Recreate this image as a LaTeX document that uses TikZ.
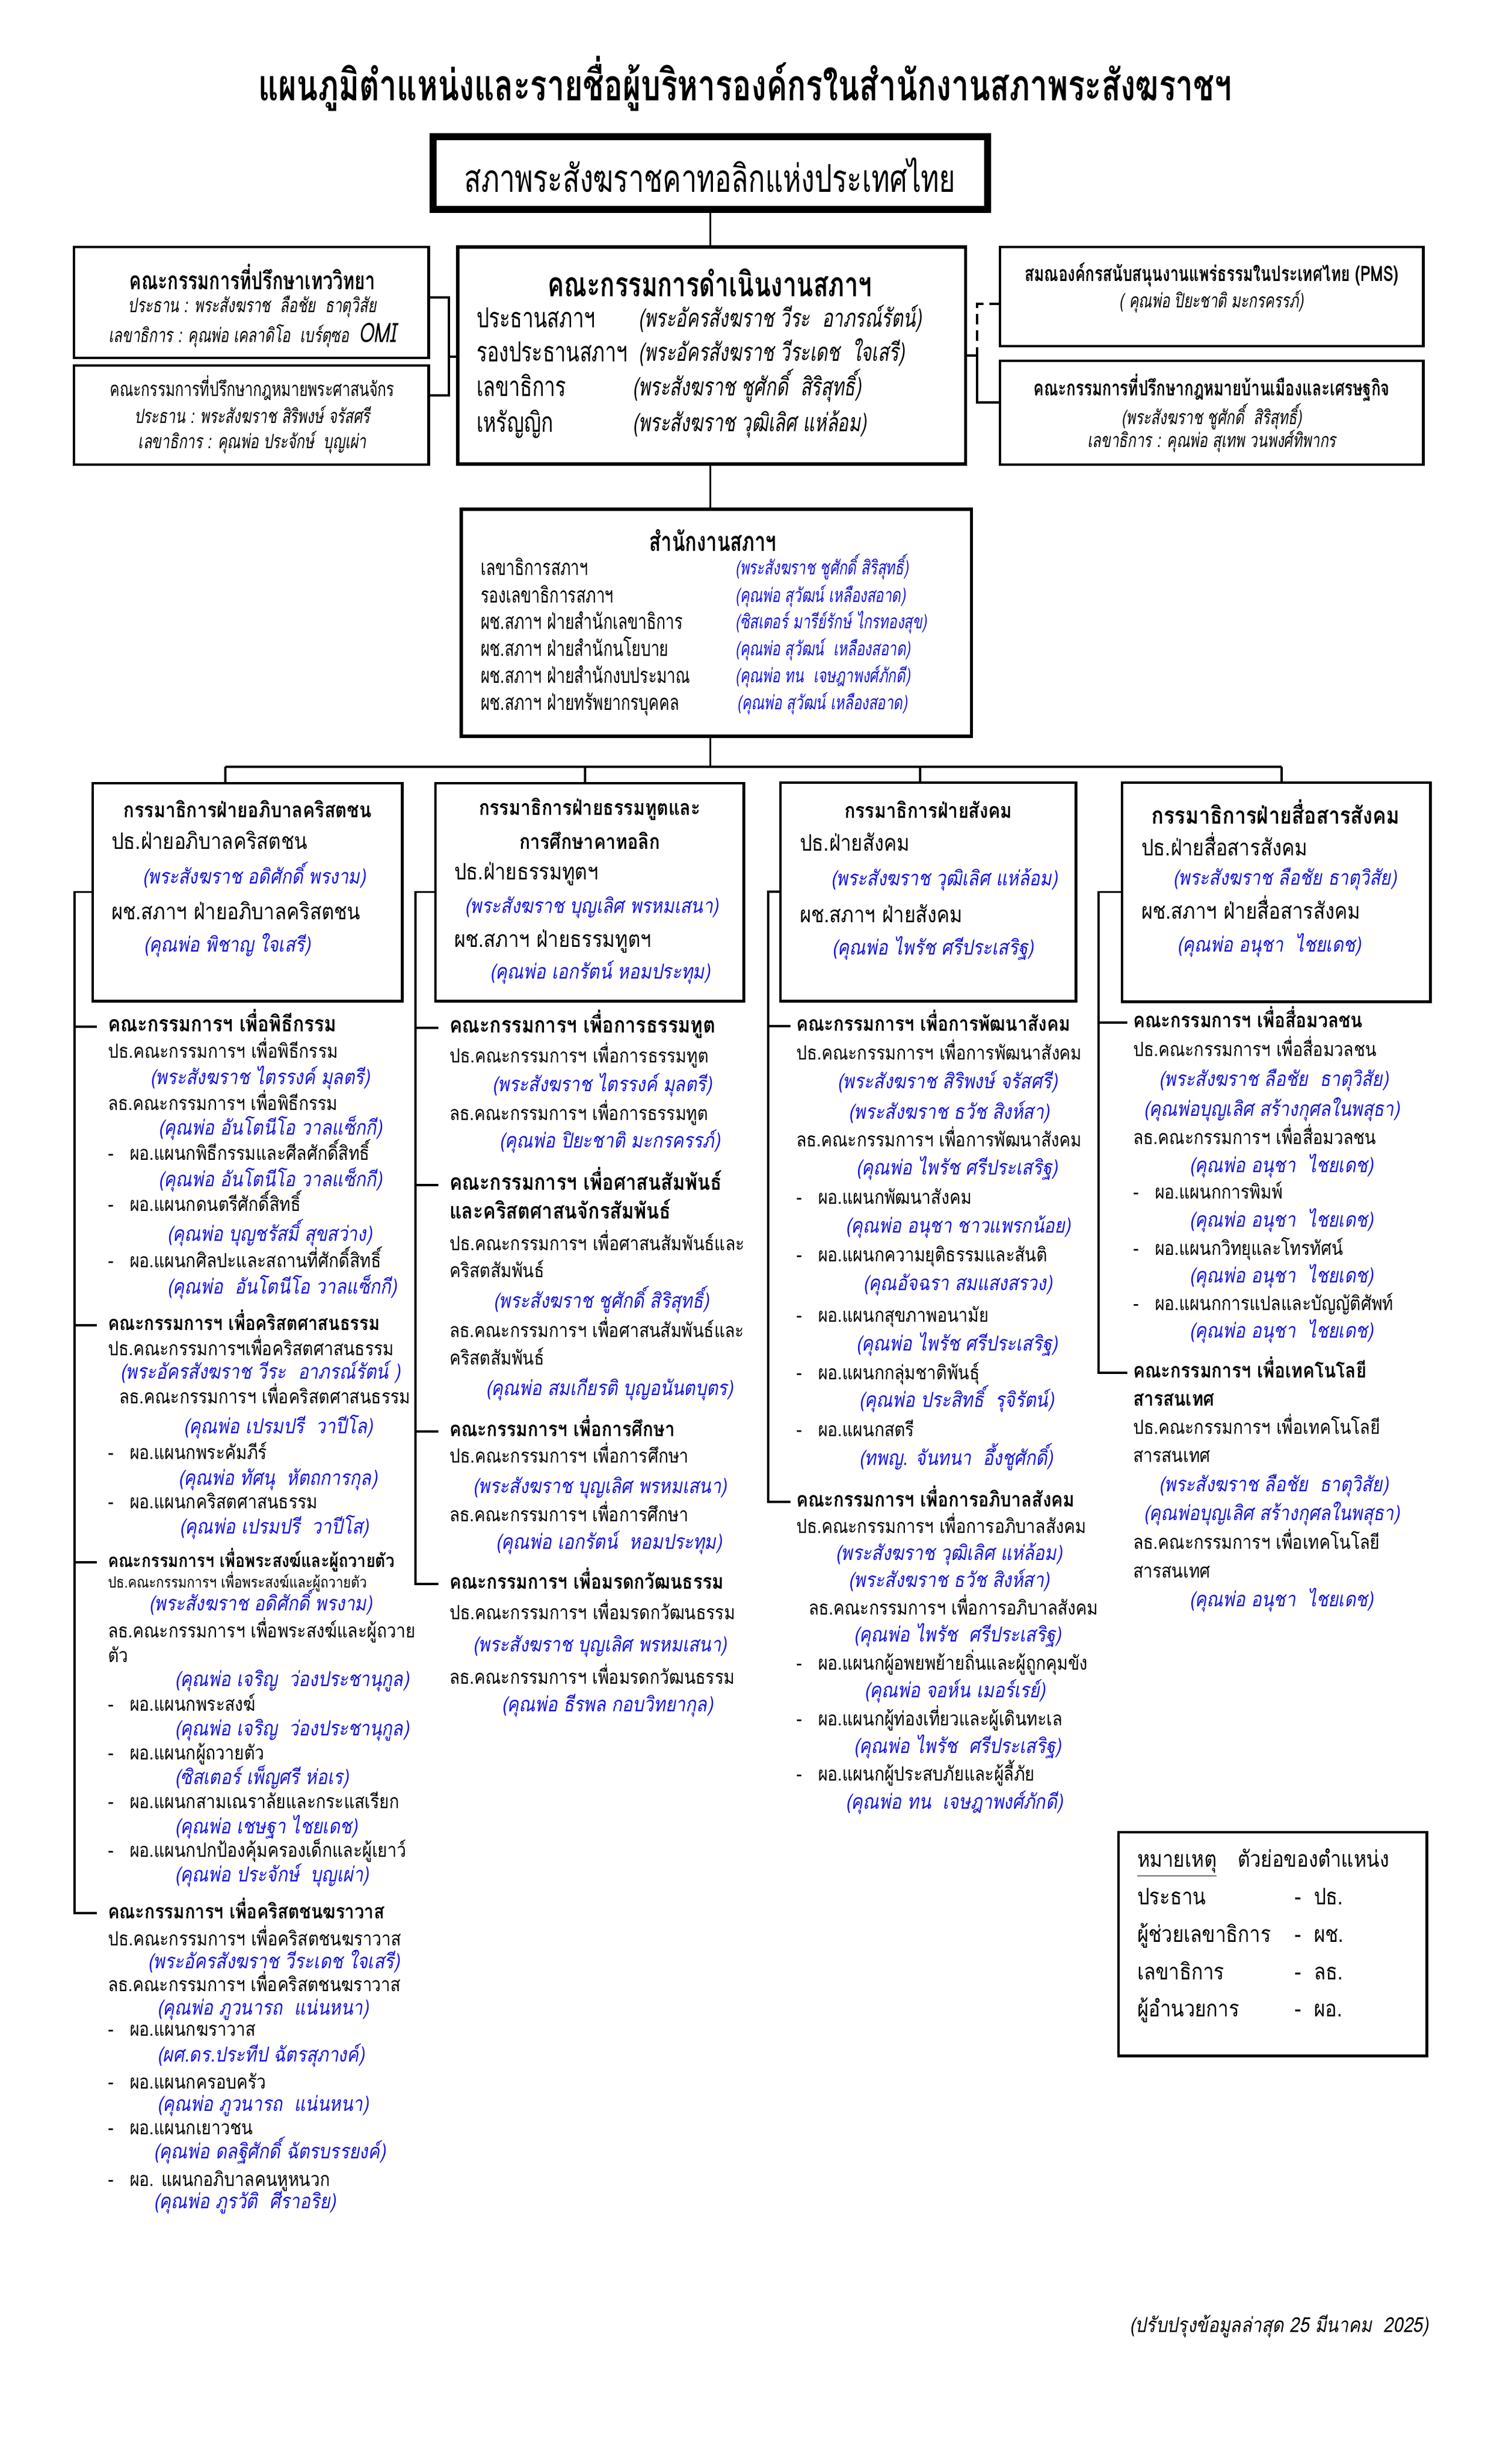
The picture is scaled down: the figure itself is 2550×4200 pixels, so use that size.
\documentclass[tikz,border=0pt]{standalone}
\usepackage{fontspec}
\usetikzlibrary{calc}
\newfontfamily\thA[Script=Thai,FakeStretch=0.85]{Loma}
\newfontfamily\thC[Script=Thai,FakeStretch=0.72]{Loma}
\newcommand\myfs[1]{\fontsize{#1}{#1}\selectfont}
\newcommand\dsh{\makebox[0.37cm][l]{-}}
\definecolor{thblue}{RGB}{20,20,225}
\tikzset{
  every node/.style={inner sep=0pt, outer sep=0pt},
  ln/.style={line width=1pt, black},
  bx/.style={draw, line width=1.3pt, anchor=north west},
  ttl/.style={anchor=center, font=\thC\bfseries\myfs{21}},
  topt/.style={anchor=center, font=\thC\myfs{18.6}},
  ctt/.style={anchor=center, font=\thC\bfseries\myfs{16.5}},
  clab/.style={anchor=west, font=\thC\myfs{13.4}, text height=8.8pt, text depth=2.3pt},
  cnam/.style={anchor=west, font=\thC\itshape\myfs{12.2}, text height=8.1pt, text depth=2.1pt},
  sbt/.style={anchor=center, font=\thC\bfseries\myfs{12}},
  sbtr/.style={anchor=center, font=\thC\myfs{9.8}},
  sbi/.style={anchor=center, font=\thC\itshape\myfs{9.6}},
  sbb/.style={anchor=center, font=\thC\bfseries\myfs{10.3}},
  stt/.style={anchor=center, font=\thC\bfseries\myfs{13}},
  slab/.style={anchor=west, font=\thC\myfs{10.5}, text height=7pt, text depth=1.8pt},
  snam/.style={anchor=west, font=\thC\itshape\myfs{9.5}, text=thblue, text height=6.3pt, text depth=1.6pt},
  ct/.style={anchor=west, font=\thA\myfs{9.5}, text height=6.3pt, text depth=1.5pt},
  cs/.style={anchor=west, font=\thA\myfs{7.5}, text height=5pt, text depth=1.2pt},
  cn/.style={anchor=west, font=\thA\itshape\myfs{10}, text=thblue, text height=6.6pt, text depth=1.6pt},
  ch/.style={anchor=west, font=\thA\bfseries\myfs{#1}, text height=6.8pt, text depth=1.7pt},
  ch/.default=10,
  bt/.style={anchor=center, font=\thA\bfseries\myfs{#1}},
  bt/.default=10.2,
  bl/.style={anchor=west, font=\thA\myfs{11}, text height=7.3pt, text depth=1.8pt},
  lg/.style={anchor=west, font=\thA\myfs{11}, text height=7.3pt, text depth=1.8pt},
  ft/.style={anchor=west, font=\thA\itshape\myfs{10}},
}
\begin{document}
\begin{tikzpicture}[x=0.01cm, y=-0.01cm]
\useasboundingbox (0,0) rectangle (2550,4200);
\fill[white] (0,0) rectangle (2550,4200);

% ---------- title ----------
\node[ttl] (title) at (1270,143) {แผนภูมิตำแหน่งและรายชื่อผู้บริหารองค์กรในสำนักงานสภาพระสังฆราชฯ};

% ---------- top box ----------
\node[bx, line width=3.4pt, minimum width=9.44cm, minimum height=1.24cm] (T) at (738,233) {};
\node[topt] (Tt) at (1210,298) {สภาพระสังฆราชคาทอลิกแห่งประเทศไทย};

% ---------- executive committee ----------
\node[bx, line width=1.6pt, minimum width=8.65cm, minimum height=3.70cm] (C) at (780,421) {};
\node[ctt] (Ct) at (1210,482) {คณะกรรมการดำเนินงานสภาฯ};
\node[clab] (Cl1) at (812,547) {ประธานสภาฯ};
\node[cnam] (Cn1) at (1088,547) {(พระอัครสังฆราช วีระ \ อาภรณ์รัตน์)};
\node[clab] (Cl2) at (812,605) {รองประธานสภาฯ};
\node[cnam] (Cn2) at (1088,605) {(พระอัครสังฆราช วีระเดช \ ใจเสรี)};
\node[clab] (Cl3) at (812,664) {เลขาธิการ};
\node[cnam] (Cn3) at (1078,664) {(พระสังฆราช ชูศักดิ์ \ สิริสุทธิ์)};
\node[clab] (Cl4) at (812,725) {เหรัญญิก};
\node[cnam] (Cn4) at (1078,725) {(พระสังฆราช วุฒิเลิศ แห่ล้อม)};

% ---------- left advisory boxes ----------
\node[bx, minimum width=6.04cm, minimum height=1.89cm] (L1) at (126,421) {};
\node[sbt] (L1a) at (430,472) {คณะกรรมการที่ปรึกษาเทววิทยา};
\node[sbi] (L1b) at (430,523) {ประธาน : พระสังฆราช \ ลือชัย \ ธาตุวิสัย};
\node[sbi] (L1c) at (430,571) {เลขาธิการ : คุณพ่อ เคลาดิโอ \ เบร์ตุซอ \ {\myfs{13}OMI}};
\node[bx, minimum width=6.04cm, minimum height=1.69cm] (L2) at (126,623) {};
\node[sbtr] (L2a) at (430,661) {คณะกรรมการที่ปรึกษากฎหมายพระศาสนจักร};
\node[sbi] (L2b) at (430,707) {ประธาน : พระสังฆราช สิริพงษ์ จรัสศรี};
\node[sbi] (L2c) at (430,754) {เลขาธิการ : คุณพ่อ ประจักษ์ \ บุญเผ่า};

% ---------- right boxes ----------
\node[bx, minimum width=7.21cm, minimum height=1.69cm] (R1) at (1704,421) {};
\node[sbb] (R1a) at (2065,468) {สมณองค์กรสนับสนุนงานแพร่ธรรมในประเทศไทย (PMS)};
\node[sbi] (R1b) at (2065,514) {( คุณพ่อ ปิยะชาติ มะกรครรภ์)};
\node[bx, minimum width=7.21cm, minimum height=1.77cm] (R2) at (1704,615) {};
\node[sbb] (R2a) at (2065,661) {คณะกรรมการที่ปรึกษากฎหมายบ้านเมืองและเศรษฐกิจ};
\node[sbi] (R2b) at (2065,710) {(พระสังฆราช ชูศักดิ์ \ สิริสุทธิ์)};
\node[sbi] (R2c) at (2065,752) {เลขาธิการ : คุณพ่อ สุเทพ วนพงศ์ทิพากร};

% ---------- secretariat ----------
\node[bx, line width=1.6pt, minimum width=8.69cm, minimum height=3.87cm] (S) at (786,868) {};
\node[stt] (St) at (1215,921) {สำนักงานสภาฯ};
\node[slab] (Sl1) at (819,971) {เลขาธิการสภาฯ};
\node[snam] (Sn1) at (1253,971) {(พระสังฆราช ชูศักดิ์ สิริสุทธิ์)};
\node[slab] (Sl2) at (819,1018) {รองเลขาธิการสภาฯ};
\node[snam] (Sn2) at (1253,1018) {(คุณพ่อ สุวัฒน์ เหลืองสอาด)};
\node[slab] (Sl3) at (819,1063) {ผช.สภาฯ ฝ่ายสำนักเลขาธิการ};
\node[snam] (Sn3) at (1253,1063) {(ซิสเตอร์ มารีย์รักษ์ ไกรทองสุข)};
\node[slab] (Sl4) at (819,1109) {ผช.สภาฯ ฝ่ายสำนักนโยบาย};
\node[snam] (Sn4) at (1253,1109) {(คุณพ่อ สุวัฒน์ \ เหลืองสอาด)};
\node[slab] (Sl5) at (819,1155) {ผช.สภาฯ ฝ่ายสำนักงบประมาณ};
\node[snam] (Sn5) at (1253,1155) {(คุณพ่อ ทน \ เจษฎาพงศ์ภักดี)};
\node[slab] (Sl6) at (819,1201) {ผช.สภาฯ ฝ่ายทรัพยากรบุคคล};
\node[snam] (Sn6) at (1256,1201) {(คุณพ่อ สุวัฒน์ เหลืองสอาด)};

% ---------- top connectors ----------
\draw[ln] (T.south) -- (T.south |- C.north);
\coordinate (lb1) at (765,507);
\coordinate (lb2) at (765,674);
\coordinate (lbm) at (765,608);
\draw[line width=1.4pt] (L1.east |- lb1) -- (lb1) -- (lb2) -- (L2.east |- lb2);
\draw[line width=1.4pt] (lbm) -- (C.west |- lbm);
\coordinate (rb1) at (1665,518);
\coordinate (rbm) at (1665,606);
\coordinate (rb2) at (1665,686);
\draw[ln, dash pattern=on 5pt off 3pt] (R1.west |- rb1) -- (rb1) -- (rbm);
\draw[ln] (C.east |- rbm) -- (rbm) -- (rb2) -- (R2.west |- rb2);
\draw[ln] (C.south -| T.south) -- (T.south |- S.north);
\coordinate (d1) at (384,1307);
\coordinate (d2) at (997,1307);
\coordinate (d3) at (1568,1307);
\coordinate (d4) at (2184,1307);
\draw[ln] (T.south |- S.south) -- (T.south |- d1);
\draw[ln] (d1) -- (d4);

% ---------- column boxes ----------
\node[bx, minimum width=5.27cm, minimum height=3.71cm] (B1) at (158,1335) {};
\node[bx, minimum width=5.25cm, minimum height=3.71cm] (B2) at (742,1335) {};
\node[bx, minimum width=5.03cm, minimum height=3.72cm] (B3) at (1330,1334) {};
\node[bx, minimum width=5.25cm, minimum height=3.73cm] (B4) at (1912,1334) {};
\draw[ln] (d1) -- (d1 |- B1.north);
\draw[ln] (d2) -- (d2 |- B2.north);
\draw[ln] (d3) -- (d3 |- B3.north);
\draw[ln] (d4) -- (d4 |- B4.north);

% ---------- column 1 ----------
\node[bt] (b1t) at (422,1379) {กรรมาธิการฝ่ายอภิบาลคริสตชน};
\node[bl] (b1a) at (190,1438) {ปธ.ฝ่ายอภิบาลคริสตชน};
\node[cn] (b1b) at (243,1498) {(พระสังฆราช อดิศักดิ์ พรงาม)};
\node[bl] (b1c) at (190,1558) {ผช.สภาฯ ฝ่ายอภิบาลคริสตชน};
\node[cn] (b1d) at (245,1614) {(คุณพ่อ พิชาญ ใจเสรี)};

\node[ch=10.6] (h11) at (184,1750) {คณะกรรมการฯ เพื่อพิธีกรรม};
\node[ct] (k101) at (184,1795) {ปธ.คณะกรรมการฯ เพื่อพิธีกรรม};
\node[cn] (k102) at (256,1840) {(พระสังฆราช ไตรรงค์ มุลตรี)};
\node[ct] (k103) at (184,1884) {ลธ.คณะกรรมการฯ เพื่อพิธีกรรม};
\node[cn] (k104) at (270,1926) {(คุณพ่อ อันโตนีโอ วาลแซ็กกี)};
\node[ct] (k105) at (184,1969) {\dsh ผอ.แผนกพิธีกรรมและศีลศักดิ์สิทธิ์};
\node[cn] (k106) at (270,2014) {(คุณพ่อ อันโตนีโอ วาลแซ็กกี)};
\node[ct] (k107) at (184,2056) {\dsh ผอ.แผนกดนตรีศักดิ์สิทธิ์};
\node[cn] (k108) at (285,2107) {(คุณพ่อ บุญชรัสมิ์ สุขสว่าง)};
\node[ct] (k109) at (184,2152) {\dsh ผอ.แผนกศิลปะและสถานที่ศักดิ์สิทธิ์};
\node[cn] (k110) at (285,2197) {(คุณพ่อ \ อันโตนีโอ วาลแซ็กกี)};

\node[ch=9.7] (h12) at (184,2259) {คณะกรรมการฯ เพื่อคริสตศาสนธรรม};
\node[ct] (k111) at (184,2302) {ปธ.คณะกรรมการฯเพื่อคริสตศาสนธรรม};
\node[cn] (k112) at (205,2342) {(พระอัครสังฆราช วีระ \ อาภรณ์รัตน์ )};
\node[ct] (k113) at (203,2384) {ลธ.คณะกรรมการฯ เพื่อคริสตศาสนธรรม};
\node[cn] (k114) at (313,2435) {(คุณพ่อ เปรมปรี \ วาปีโล)};
\node[ct] (k115) at (184,2479) {\dsh ผอ.แผนกพระคัมภีร์};
\node[cn] (k116) at (304,2523) {(คุณพ่อ ทัศนุ \ หัตถการกุล)};
\node[ct] (k117) at (184,2563) {\dsh ผอ.แผนกคริสตศาสนธรรม};
\node[cn] (k118) at (306,2606) {(คุณพ่อ เปรมปรี \ วาปีโส)};

\node[ch=9] (h13) at (184,2663) {คณะกรรมการฯ เพื่อพระสงฆ์และผู้ถวายตัว};
\node[cs] (k119) at (184,2700) {ปธ.คณะกรรมการฯ เพื่อพระสงฆ์และผู้ถวายตัว};
\node[cn] (k120) at (254,2737) {(พระสังฆราช อดิศักดิ์ พรงาม)};
\node[ct] (k121) at (184,2783) {ลธ.คณะกรรมการฯ เพื่อพระสงฆ์และผู้ถวาย};
\node[ct] (k122) at (184,2825) {ตัว};
\node[cn] (k123) at (298,2866) {(คุณพ่อ เจริญ \ ว่องประชานุกูล)};
\node[ct] (k124) at (184,2908) {\dsh ผอ.แผนกพระสงฆ์};
\node[cn] (k125) at (298,2950) {(คุณพ่อ เจริญ \ ว่องประชานุกูล)};
\node[ct] (k126) at (184,2991) {\dsh ผอ.แผนกผู้ถวายตัว};
\node[cn] (k127) at (298,3033) {(ซิสเตอร์ เพ็ญศรี ห่อเร)};
\node[ct] (k128) at (184,3074) {\dsh ผอ.แผนกสามเณราลัยและกระแสเรียก};
\node[cn] (k129) at (298,3117) {(คุณพ่อ เชษฐา ไชยเดช)};
\node[ct] (k130) at (184,3157) {\dsh ผอ.แผนกปกป้องคุ้มครองเด็กและผู้เยาว์};
\node[cn] (k131) at (298,3199) {(คุณพ่อ ประจักษ์ \ บุญเผ่า)};

\node[ch=9.8] (h14) at (184,3261) {คณะกรรมการฯ เพื่อคริสตชนฆราวาส};
\node[ct] (k132) at (184,3308) {ปธ.คณะกรรมการฯ เพื่อคริสตชนฆราวาส};
\node[cn] (k133) at (252,3347) {(พระอัครสังฆราช วีระเดช ใจเสรี)};
\node[ct] (k134) at (184,3386) {ลธ.คณะกรรมการฯ เพื่อคริสตชนฆราวาส};
\node[cn] (k135) at (268,3426) {(คุณพ่อ ภูวนารถ \ แน่นหนา)};
\node[ct] (k136) at (184,3462) {\dsh ผอ.แผนกฆราวาส};
\node[cn] (k137) at (268,3506) {(ผศ.ดร.ประทีป ฉัตรสุภางค์)};
\node[ct] (k138) at (184,3552) {\dsh ผอ.แผนกครอบครัว};
\node[cn] (k139) at (268,3590) {(คุณพ่อ ภูวนารถ \ แน่นหนา)};
\node[ct] (k140) at (184,3630) {\dsh ผอ.แผนกเยาวชน};
\node[cn] (k141) at (262,3671) {(คุณพ่อ ดลฐิศักดิ์ ฉัตรบรรยงค์)};
\node[ct] (k142) at (184,3718) {\dsh ผอ. แผนกอภิบาลคนหูหนวก};
\node[cn] (k143) at (262,3756) {(คุณพ่อ ภูรวัติ \ ศีราอริย)};

\coordinate (v1) at (127,1523);
\draw[ln] (B1.west) -- (v1 |- B1.west) -- (v1 |- h14.west) -- ($(h14.west)+(-19,0)$);
\draw[ln] (v1 |- h11.west) -- ($(h11.west)+(-19,0)$);
\draw[ln] (v1 |- h12.west) -- ($(h12.west)+(-19,0)$);
\draw[ln] (v1 |- h13.west) -- ($(h13.west)+(-19,0)$);

% ---------- column 2 ----------
\node[bt] (b2t) at (1005,1379) {กรรมาธิการฝ่ายธรรมทูตและ};
\node[bt] (b2u) at (1005,1433) {การศึกษาคาทอลิก};
\node[bl] (b2a) at (774,1490) {ปธ.ฝ่ายธรรมทูตฯ};
\node[cn] (b2b) at (792,1548) {(พระสังฆราช บุญเลิศ พรหมเสนา)};
\node[bl] (b2c) at (774,1605) {ผช.สภาฯ ฝ่ายธรรมทูตฯ};
\node[cn] (b2d) at (835,1660) {(คุณพ่อ เอกรัตน์ หอมประทุม)};

\node[ch=10.8] (h21) at (766,1752) {คณะกรรมการฯ เพื่อการธรรมทูต};
\node[ct] (k201) at (766,1803) {ปธ.คณะกรรมการฯ เพื่อการธรรมทูต};
\node[cn] (k202) at (839,1852) {(พระสังฆราช ไตรรงค์ มุลตรี)};
\node[ct] (k203) at (766,1901) {ลธ.คณะกรรมการฯ เพื่อการธรรมทูต};
\node[cn] (k204) at (851,1948) {(คุณพ่อ ปิยะชาติ มะกรครรภ์)};

\node[ch=10.8] (h22) at (766,2020) {คณะกรรมการฯ เพื่อศาสนสัมพันธ์};
\node[ch=10.8] (h22b) at (766,2069) {และคริสตศาสนจักรสัมพันธ์};
\node[ct] (k205) at (766,2123) {ปธ.คณะกรรมการฯ เพื่อศาสนสัมพันธ์และ};
\node[ct] (k206) at (766,2169) {คริสตสัมพันธ์};
\node[cn] (k207) at (841,2221) {(พระสังฆราช ชูศักดิ์ สิริสุทธิ์)};
\node[ct] (k208) at (766,2271) {ลธ.คณะกรรมการฯ เพื่อศาสนสัมพันธ์และ};
\node[ct] (k209) at (766,2318) {คริสตสัมพันธ์};
\node[cn] (k210) at (828,2370) {(คุณพ่อ สมเกียรติ บุญอนันตบุตร)};

\node[ch] (h23) at (766,2440) {คณะกรรมการฯ เพื่อการศึกษา};
\node[ct] (k211) at (766,2485) {ปธ.คณะกรรมการฯ เพื่อการศึกษา};
\node[cn] (k212) at (806,2537) {(พระสังฆราช บุญเลิศ พรหมเสนา)};
\node[ct] (k213) at (766,2585) {ลธ.คณะกรรมการฯ เพื่อการศึกษา};
\node[cn] (k214) at (845,2632) {(คุณพ่อ เอกรัตน์ \ หอมประทุม)};

\node[ch] (h24) at (766,2700) {คณะกรรมการฯ เพื่อมรดกวัฒนธรรม};
\node[ct] (k215) at (766,2752) {ปธ.คณะกรรมการฯ เพื่อมรดกวัฒนธรรม};
\node[cn] (k216) at (806,2807) {(พระสังฆราช บุญเลิศ พรหมเสนา)};
\node[ct] (k217) at (766,2862) {ลธ.คณะกรรมการฯ เพื่อมรดกวัฒนธรรม};
\node[cn] (k218) at (855,2909) {(คุณพ่อ ธีรพล กอบวิทยากุล)};

\coordinate (v2) at (708,1520);
\draw[ln] (B2.west) -- (v2 |- B2.west) -- (v2 |- h24.west) -- ($(h24.west)+(-19,0)$);
\draw[ln] (v2 |- h21.west) -- ($(h21.west)+(-19,0)$);
\draw[ln] (v2 |- h22.west) -- ($(h22.west)+(-19,0)$);
\draw[ln] (v2 |- h23.west) -- ($(h23.west)+(-19,0)$);

% ---------- column 3 ----------
\node[bt] (b3t) at (1582,1380) {กรรมาธิการฝ่ายสังคม};
\node[bl] (b3a) at (1363,1441) {ปธ.ฝ่ายสังคม};
\node[cn] (b3b) at (1416,1501) {(พระสังฆราช วุฒิเลิศ แห่ล้อม)};
\node[bl] (b3c) at (1363,1563) {ผช.สภาฯ ฝ่ายสังคม};
\node[cn] (b3d) at (1418,1619) {(คุณพ่อ ไพรัช ศรีประเสริฐ)};

\node[ch] (h31) at (1357,1749) {คณะกรรมการฯ เพื่อการพัฒนาสังคม};
\node[ct] (k301) at (1357,1798) {ปธ.คณะกรรมการฯ เพื่อการพัฒนาสังคม};
\node[cn] (k302) at (1427,1847) {(พระสังฆราช สิริพงษ์ จรัสศรี)};
\node[cn] (k303) at (1446,1899) {(พระสังฆราช ธวัช สิงห์สา)};
\node[ct] (k304) at (1357,1946) {ลธ.คณะกรรมการฯ เพื่อการพัฒนาสังคม};
\node[cn] (k305) at (1459,1994) {(คุณพ่อ ไพรัช ศรีประเสริฐ)};
\node[ct] (k306) at (1357,2044) {\dsh ผอ.แผนกพัฒนาสังคม};
\node[cn] (k307) at (1441,2093) {(คุณพ่อ อนุชา ชาวแพรกน้อย)};
\node[ct] (k308) at (1357,2142) {\dsh ผอ.แผนกความยุติธรรมและสันติ};
\node[cn] (k309) at (1471,2191) {(คุณอัจฉรา สมแสงสรวง)};
\node[ct] (k310) at (1357,2245) {\dsh ผอ.แผนกสุขภาพอนามัย};
\node[cn] (k311) at (1459,2294) {(คุณพ่อ ไพรัช ศรีประเสริฐ)};
\node[ct] (k312) at (1357,2343) {\dsh ผอ.แผนกกลุ่มชาติพันธุ์};
\node[cn] (k313) at (1464,2390) {(คุณพ่อ ประสิทธิ์ \ รุจิรัตน์)};
\node[ct] (k314) at (1357,2440) {\dsh ผอ.แผนกสตรี};
\node[cn] (k315) at (1464,2489) {(ทพญ. จันทนา \ อึ้งชูศักดิ์)};

\node[ch] (h32) at (1357,2560) {คณะกรรมการฯ เพื่อการอภิบาลสังคม};
\node[ct] (k316) at (1357,2605) {ปธ.คณะกรรมการฯ เพื่อการอภิบาลสังคม};
\node[cn] (k317) at (1424,2651) {(พระสังฆราช วุฒิเลิศ แห่ล้อม)};
\node[cn] (k318) at (1446,2697) {(พระสังฆราช ธวัช สิงห์สา)};
\node[ct] (k319) at (1378,2744) {ลธ.คณะกรรมการฯ เพื่อการอภิบาลสังคม};
\node[cn] (k320) at (1455,2790) {(คุณพ่อ ไพรัช \ ศรีประเสริฐ)};
\node[ct] (k321) at (1357,2838) {\dsh ผอ.แผนกผู้อพยพย้ายถิ่นและผู้ถูกคุมขัง};
\node[cn] (k322) at (1473,2885) {(คุณพ่อ จอห์น เมอร์เรย์)};
\node[ct] (k323) at (1357,2933) {\dsh ผอ.แผนกผู้ท่องเที่ยวและผู้เดินทะเล};
\node[cn] (k324) at (1455,2980) {(คุณพ่อ ไพรัช \ ศรีประเสริฐ)};
\node[ct] (k325) at (1357,3027) {\dsh ผอ.แผนกผู้ประสบภัยและผู้ลี้ภัย};
\node[cn] (k326) at (1441,3075) {(คุณพ่อ ทน \ เจษฎาพงศ์ภักดี)};

\coordinate (v3) at (1309,1520);
\draw[ln] (B3.west) -- (v3 |- B3.west) -- (v3 |- h32.west) -- ($(h32.west)+(-10,0)$);
\draw[ln] (v3 |- h31.west) -- ($(h31.west)+(-10,0)$);

% ---------- column 4 ----------
\node[bt=11.5] (b4t) at (2174,1384) {กรรมาธิการฝ่ายสื่อสารสังคม};
\node[bl] (b4a) at (1945,1449) {ปธ.ฝ่ายสื่อสารสังคม};
\node[cn] (b4b) at (1999,1500) {(พระสังฆราช ลือชัย ธาตุวิสัย)};
\node[bl] (b4c) at (1945,1557) {ผช.สภาฯ ฝ่ายสื่อสารสังคม};
\node[cn] (b4d) at (2006,1614) {(คุณพ่อ อนุชา \ ไชยเดช)};

\node[ch] (h41) at (1931,1743) {คณะกรรมการฯ เพื่อสื่อมวลชน};
\node[ct] (k401) at (1931,1792) {ปธ.คณะกรรมการฯ เพื่อสื่อมวลชน};
\node[cn] (k402) at (1975,1843) {(พระสังฆราช ลือชัย \ ธาตุวิสัย)};
\node[cn] (k403) at (1949,1894) {(คุณพ่อบุญเลิศ สร้างกุศลในพสุธา)};
\node[ct] (k404) at (1931,1942) {ลธ.คณะกรรมการฯ เพื่อสื่อมวลชน};
\node[cn] (k405) at (2027,1990) {(คุณพ่อ อนุชา \ ไชยเดช)};
\node[ct] (k406) at (1931,2035) {\dsh ผอ.แผนกการพิมพ์};
\node[cn] (k407) at (2027,2083) {(คุณพ่อ อนุชา \ ไชยเดช)};
\node[ct] (k408) at (1931,2131) {\dsh ผอ.แผนกวิทยุและโทรทัศน์};
\node[cn] (k409) at (2027,2178) {(คุณพ่อ อนุชา \ ไชยเดช)};
\node[ct] (k410) at (1931,2225) {\dsh ผอ.แผนกการแปลและบัญญัติศัพท์};
\node[cn] (k411) at (2027,2272) {(คุณพ่อ อนุชา \ ไชยเดช)};

\node[ch] (h42) at (1931,2340) {คณะกรรมการฯ เพื่อเทคโนโลยี};
\node[ch] (h42b) at (1931,2388) {สารสนเทศ};
\node[ct] (k412) at (1931,2436) {ปธ.คณะกรรมการฯ เพื่อเทคโนโลยี};
\node[ct] (k413) at (1931,2484) {สารสนเทศ};
\node[cn] (k414) at (1975,2534) {(พระสังฆราช ลือชัย \ ธาตุวิสัย)};
\node[cn] (k415) at (1949,2583) {(คุณพ่อบุญเลิศ สร้างกุศลในพสุธา)};
\node[ct] (k416) at (1931,2632) {ลธ.คณะกรรมการฯ เพื่อเทคโนโลยี};
\node[ct] (k417) at (1931,2681) {สารสนเทศ};
\node[cn] (k418) at (2027,2730) {(คุณพ่อ อนุชา \ ไชยเดช)};

\coordinate (v4) at (1872,1516);
\draw[ln] (B4.west) -- (v4 |- B4.west) -- (v4 |- h42.west) -- ($(h42.west)+(-10,0)$);
\draw[ln] (v4 |- h41.west) -- ($(h41.west)+(-10,0)$);

% ---------- legend ----------
\node[bx, minimum width=5.25cm, minimum height=3.81cm] (G) at (1906,3123) {};
\node[lg] (g0a) at (1938,3173) {\underline{หมายเหตุ}};
\node[lg] (g0b) at (2109,3173) {ตัวย่อของตำแหน่ง};
\node[lg] (g1a) at (1938,3237) {ประธาน};
\node[lg] (g1b) at (2206,3237) {-};
\node[lg] (g1c) at (2239,3237) {ปธ.};
\node[lg] (g2a) at (1938,3301) {ผู้ช่วยเลขาธิการ};
\node[lg] (g2b) at (2206,3301) {-};
\node[lg] (g2c) at (2239,3301) {ผช.};
\node[lg] (g3a) at (1938,3365) {เลขาธิการ};
\node[lg] (g3b) at (2206,3365) {-};
\node[lg] (g3c) at (2239,3365) {ลธ.};
\node[lg] (g4a) at (1938,3428) {ผู้อำนวยการ};
\node[lg] (g4b) at (2206,3428) {-};
\node[lg] (g4c) at (2239,3428) {ผอ.};

% ---------- footer ----------
\node[ft] (foot) at (1925,3965) {(ปรับปรุงข้อมูลล่าสุด 25 มีนาคม \ 2025)};
\end{tikzpicture}
\end{document}
